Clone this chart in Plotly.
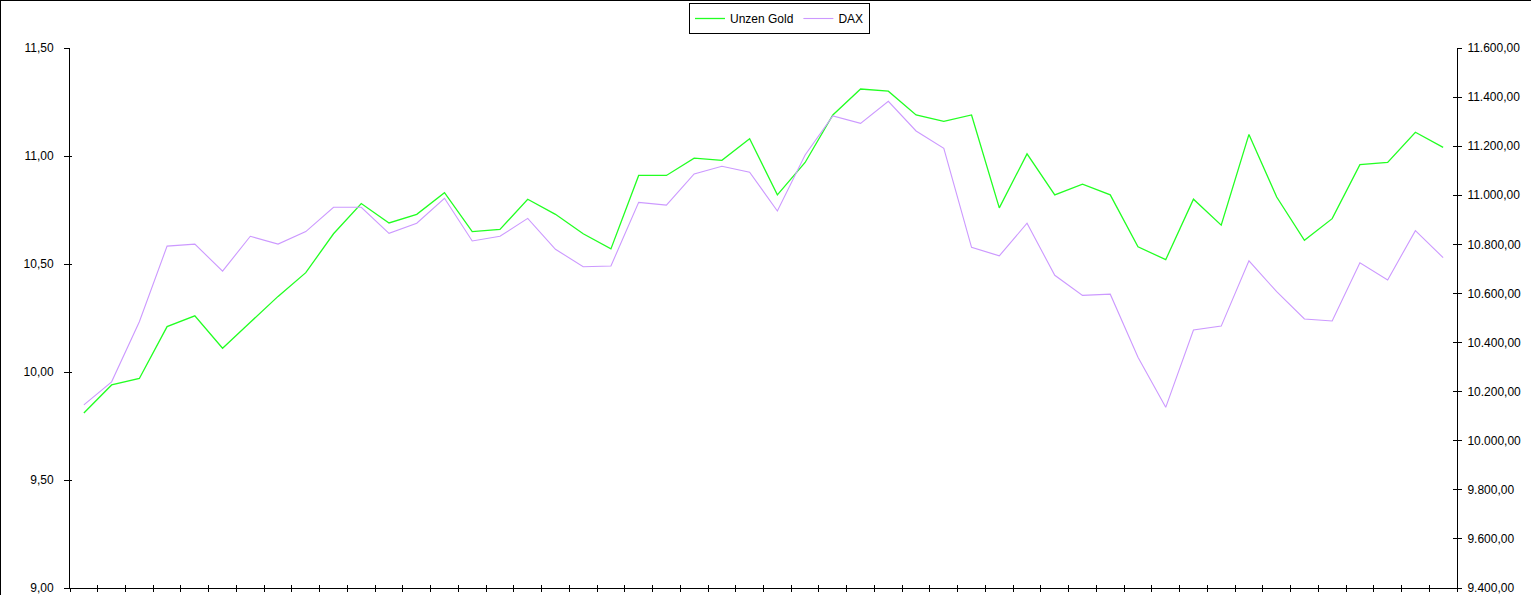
import plotly.graph_objects as go

# ---- data ----
periods = list(range(1, 51))
gold = [9.81, 9.94, 9.97, 10.21, 10.26, 10.11, 10.23, 10.35, 10.46, 10.64,
        10.78, 10.69, 10.73, 10.83, 10.65, 10.66, 10.80, 10.73, 10.64, 10.57,
        10.91, 10.91, 10.99, 10.98, 11.08, 10.82, 10.97, 11.19, 11.31, 11.30,
        11.19, 11.16, 11.19, 10.76, 11.01, 10.82, 10.87, 10.82, 10.58, 10.52,
        10.80, 10.68, 11.10, 10.81, 10.61, 10.71, 10.96, 10.97, 11.11, 11.04]
dax = [10146, 10240, 10485, 10793, 10801, 10691, 10833, 10801, 10852, 10951,
       10951, 10845, 10886, 10988, 10814, 10833, 10906, 10780, 10709, 10712,
       10971, 10960, 11087, 11118, 11094, 10936, 11164, 11323, 11293, 11383,
       11262, 11191, 10788, 10753, 10886, 10674, 10592, 10597, 10340, 10136,
       10451, 10467, 10733, 10607, 10496, 10488, 10725, 10655, 10856, 10746]
left_ticks = [9.0, 9.5, 10.0, 10.5, 11.0, 11.5]
right_ticks = [9400, 9600, 9800, 10000, 10200, 10400, 10600, 10800, 11000, 11200, 11400, 11600]
series_names = ["Unzen Gold", "DAX"]

W, H = 1531, 595
ML, MR, MT, MB = 70, 74, 48, 7
PW, PH = W - ML - MR, H - MT - MB

xr = [periods[0] - 0.5, periods[-1] + 0.5]
boundaries = [p - 0.5 for p in periods] + [periods[-1] + 0.5]

fig = go.Figure()
fig.add_trace(go.Scatter(x=periods, y=gold, name=series_names[0], mode="lines",
                         line=dict(color="#22ff22", width=1.3), yaxis="y"))
fig.add_trace(go.Scatter(x=periods, y=dax, name=series_names[1], mode="lines",
                         line=dict(color="#cc99ff", width=1.1), yaxis="y2"))
# helper traces for crossing tick marks
fig.add_trace(go.Scatter(x=[None], y=[None], xaxis="x2", yaxis="y", showlegend=False, hoverinfo="skip"))
fig.add_trace(go.Scatter(x=[None], y=[None], xaxis="x", yaxis="y3", showlegend=False, hoverinfo="skip"))
fig.add_trace(go.Scatter(x=[None], y=[None], xaxis="x", yaxis="y4", showlegend=False, hoverinfo="skip"))

font = "Liberation Sans, Arial, sans-serif"
fig.update_layout(
    width=W, height=H,
    margin=dict(l=ML, r=MR, t=MT, b=MB, pad=0, autoexpand=False),
    paper_bgcolor="white", plot_bgcolor="white",
    separators=",.",
    font=dict(family=font, size=12, color="black"),
    showlegend=True,
    legend=dict(orientation="h", x=(689 - ML) / PW, xanchor="left",
                y=(PH + MT - 3) / PH, yanchor="top",
                bordercolor="black", borderwidth=1, bgcolor="white",
                font=dict(family=font, size=12, color="black"),
                itemwidth=30, tracegroupgap=0),
    xaxis=dict(range=xr, showgrid=False, zeroline=False, showline=True,
               linecolor="black", linewidth=1, ticks="outside", ticklen=3,
               tickcolor="black", tickmode="array", tickvals=boundaries,
               showticklabels=False),
    xaxis2=dict(range=xr, overlaying="x", anchor="y", side="bottom",
                showgrid=False, zeroline=False, showline=False,
                ticks="inside", ticklen=3, tickcolor="black",
                tickmode="array", tickvals=boundaries, showticklabels=False),
    yaxis=dict(range=[9.0, 11.5], showgrid=False, zeroline=False, showline=True,
               linecolor="black", linewidth=1, ticks="outside", ticklen=5,
               tickcolor="black", tickmode="array", tickvals=left_ticks,
               tickformat=".2f", ticklabelstandoff=8, ticklabeloverflow="allow"),
    yaxis2=dict(range=[9400, 11600], overlaying="y", side="right", anchor="x",
                showgrid=False, zeroline=False, showline=True,
                linecolor="black", linewidth=1, ticks="outside", ticklen=4,
                tickcolor="black", tickmode="array", tickvals=right_ticks,
                tickformat=",.2f", ticklabelstandoff=3, ticklabeloverflow="allow"),
    yaxis3=dict(range=[9400, 11600], overlaying="y", side="right", anchor="x",
                showgrid=False, zeroline=False, showline=False,
                ticks="inside", ticklen=4, tickcolor="black",
                tickmode="array", tickvals=right_ticks, showticklabels=False),
    yaxis4=dict(range=[9.0, 11.5], overlaying="y", side="left", anchor="x",
                showgrid=False, zeroline=False, showline=False,
                ticks="inside", ticklen=2, tickcolor="black",
                tickmode="array", tickvals=left_ticks, showticklabels=False),
    shapes=[
        dict(type="line", xref="paper", yref="paper",
             x0=(-ML + 0.5) / PW, x1=(-ML + 0.5) / PW,
             y0=-MB / PH, y1=(PH + MT) / PH, line=dict(color="black", width=1)),
        dict(type="line", xref="paper", yref="paper",
             x0=-ML / PW, x1=(PW + MR) / PW,
             y0=(PH + MT - 0.5) / PH, y1=(PH + MT - 0.5) / PH,
             line=dict(color="black", width=1)),
    ],
)

fig.write_html(
    "out.html",
    config={"displayModeBar": False},
    post_script="document.body.style.margin='0';document.body.style.padding='0';"
                "document.body.style.overflow='hidden';",
)
